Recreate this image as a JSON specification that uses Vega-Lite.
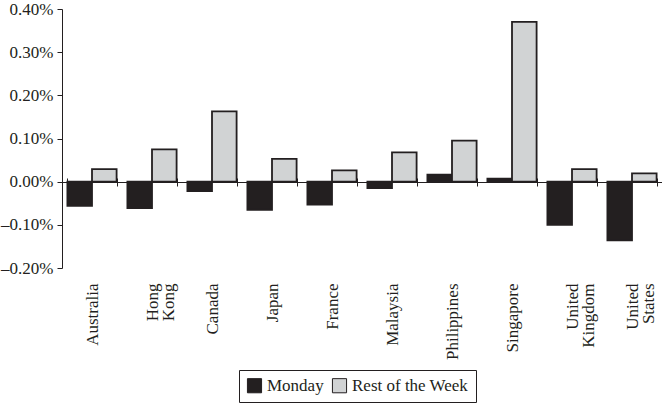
{
  "$schema": "https://vega.github.io/schema/vega-lite/v6.json",
  "width": 600,
  "height": 259,
  "autosize": "none",
  "padding": {"left": 62, "top": 9, "right": 0, "bottom": 136},
  "config": {
    "view": {"stroke": null},
    "axis": {"labelColor": "#231f20", "domainColor": "#231f20", "tickColor": "#231f20", "grid": false, "title": null}
  },
  "data": {
    "values": [
      {"country": "Australia", "day": "Monday", "ret": -0.00056},
      {"country": "Australia", "day": "Rest of the Week", "ret": 0.00029},
      {"country": "Hong Kong", "day": "Monday", "ret": -0.00061},
      {"country": "Hong Kong", "day": "Rest of the Week", "ret": 0.00075},
      {"country": "Canada", "day": "Monday", "ret": -0.00022},
      {"country": "Canada", "day": "Rest of the Week", "ret": 0.00163},
      {"country": "Japan", "day": "Monday", "ret": -0.00065},
      {"country": "Japan", "day": "Rest of the Week", "ret": 0.00053},
      {"country": "France", "day": "Monday", "ret": -0.00053},
      {"country": "France", "day": "Rest of the Week", "ret": 0.00026},
      {"country": "Malaysia", "day": "Monday", "ret": -0.00015},
      {"country": "Malaysia", "day": "Rest of the Week", "ret": 0.00068},
      {"country": "Philippines", "day": "Monday", "ret": 0.00016},
      {"country": "Philippines", "day": "Rest of the Week", "ret": 0.00095},
      {"country": "Singapore", "day": "Monday", "ret": 0.00007},
      {"country": "Singapore", "day": "Rest of the Week", "ret": 0.0037},
      {"country": "United Kingdom", "day": "Monday", "ret": -0.0010},
      {"country": "United Kingdom", "day": "Rest of the Week", "ret": 0.00029},
      {"country": "United States", "day": "Monday", "ret": -0.00136},
      {"country": "United States", "day": "Rest of the Week", "ret": 0.00019}
    ]
  },
  "layer": [
    {
      "mark": {"type": "bar", "stroke": "#231f20", "strokeWidth": 1.8},
      "encoding": {
        "x": {
          "field": "country",
          "type": "nominal",
          "sort": null,
          "scale": {"paddingInner": 0.18, "paddingOuter": 0.09},
          "axis": {
            "orient": "bottom",
            "offset": -86,
            "labelAngle": -90,
            "labelPadding": 97,
            "labelFont": "Liberation Serif",
            "labelFontSize": 17,
            "tickSize": 4,
            "tickBand": "extent",
            "labelExpr": "split(datum.label, ' ')",
            "labelLineHeight": 16
          }
        },
        "xOffset": {"field": "day", "type": "nominal", "scale": {"paddingInner": 0, "paddingOuter": 0}},
        "y": {
          "field": "ret",
          "type": "quantitative",
          "scale": {"domain": [-0.002, 0.004], "nice": false},
          "axis": {
            "values": [-0.002, -0.001, 0, 0.001, 0.002, 0.003, 0.004],
            "labelExpr": "replace(format(datum.value, '.2%'), '−', '–')",
            "labelFont": "Liberation Serif",
            "labelFontSize": 17,
            "tickSize": 5,
            "labelPadding": 4
          }
        },
        "fill": {
          "field": "day",
          "type": "nominal",
          "scale": {"domain": ["Monday", "Rest of the Week"], "range": ["#231f20", "#d1d3d4"]},
          "legend": {
            "orient": "none",
            "legendX": 177,
            "legendY": 361,
            "direction": "horizontal",
            "title": null,
            "strokeColor": "#231f20",
            "padding": 7,
            "symbolType": "square",
            "symbolSize": 200,
            "symbolStrokeColor": "#231f20",
            "symbolStrokeWidth": 1,
            "labelFont": "Liberation Serif",
            "labelFontSize": 17,
            "labelColor": "#231f20",
            "columnPadding": 6,
            "labelOffset": 4
          }
        }
      }
    },
    {
      "mark": {"type": "rule", "opacity": 0},
      "encoding": {
        "x": {
          "field": "country",
          "type": "nominal",
          "sort": null,
          "axis": {
            "orient": "top",
            "offset": -173,
            "labels": false,
            "domain": true,
            "tickSize": 4,
            "tickBand": "extent"
          }
        }
      }
    }
  ],
  "resolve": {"axis": {"x": "independent"}}
}
